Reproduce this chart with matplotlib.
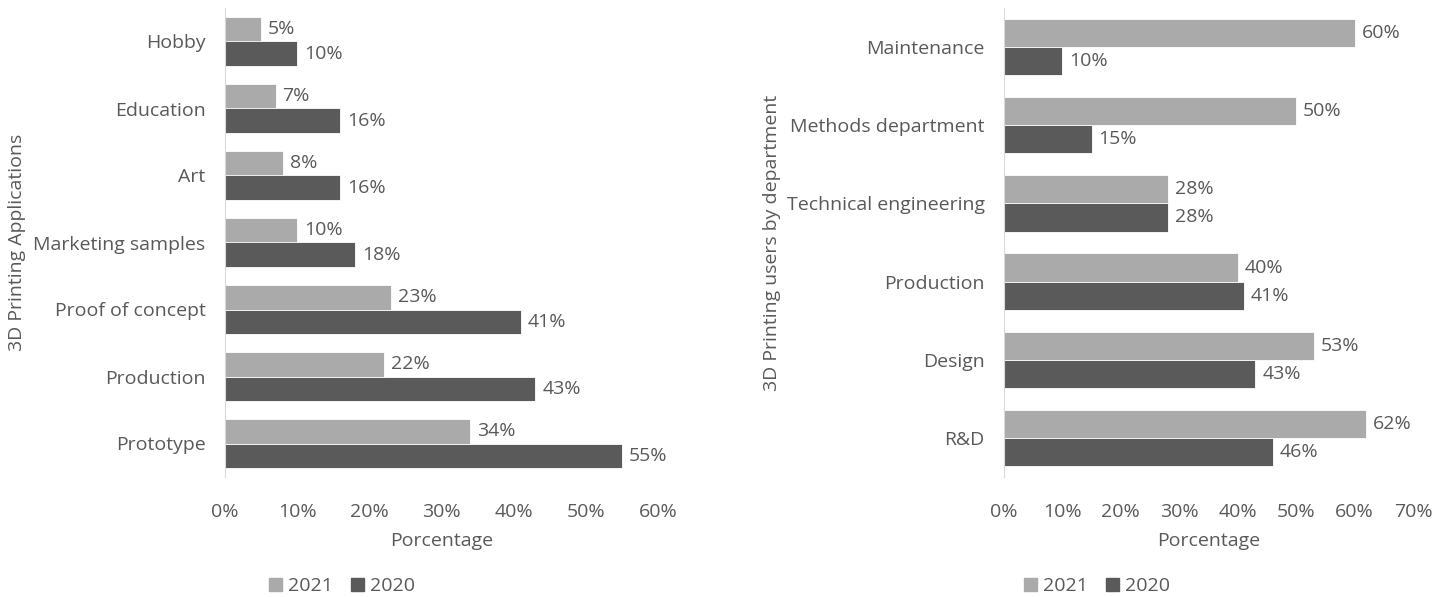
import matplotlib
matplotlib.use("Agg")
import matplotlib.pyplot as plt
import numpy as np
from matplotlib.patches import Patch

plt.rcParams['font.family'] = ['Open Sans', 'DejaVu Sans']

# Applications (top to bottom)
app_categories = ["Hobby", "Education", "Art", "Marketing samples",
                  "Proof of concept", "Production", "Prototype"]
app_2021 = [5, 7, 8, 10, 23, 22, 34]
app_2020 = [10, 16, 16, 18, 41, 43, 55]

# Departments (top to bottom)
dept_categories = ["Maintenance", "Methods department", "Technical engineering",
                   "Production", "Design", "R&D"]
dept_2021 = [60, 50, 28, 40, 53, 62]
dept_2020 = [10, 15, 28, 41, 43, 46]

years = ["2021", "2020"]
c2021 = "#AAAAAA"
c2020 = "#5A5A5A"
txt = "#595959"
fs = 14

fig = plt.figure(figsize=(14.51, 5.97), dpi=100)


def draw(ax, cats, v21, v20, xmax, ylabel):
    n = len(cats)
    y = np.arange(n)[::-1]
    h = 0.36
    ax.barh(y + h / 2, v21, height=h, color=c2021, edgecolor="white", linewidth=0.6)
    ax.barh(y - h / 2, v20, height=h, color=c2020, edgecolor="white", linewidth=0.6)
    for yy, a, b in zip(y, v21, v20):
        ax.annotate(f"{a}%", (a, yy + h / 2), xytext=(5, 0), textcoords="offset points",
                    va="center", ha="left", fontsize=fs, color=txt)
        ax.annotate(f"{b}%", (b, yy - h / 2), xytext=(5, 0), textcoords="offset points",
                    va="center", ha="left", fontsize=fs, color=txt)
    ax.set_ylim(-0.5, n - 0.5)
    ax.set_xlim(0, xmax)
    ax.set_yticks(y)
    ax.set_yticklabels(cats, fontsize=fs, color=txt)
    ticks = np.arange(0, xmax + 1, 10)
    ax.set_xticks(ticks)
    ax.set_xticklabels([f"{t}%" for t in ticks], fontsize=fs, color=txt)
    ax.tick_params(length=0, pad=14, axis="y")
    ax.tick_params(length=0, pad=19, axis="x")
    for s in ["top", "right", "bottom"]:
        ax.spines[s].set_visible(False)
    ax.spines["left"].set_color("#D9D9D9")
    ax.set_xlabel("Porcentage", fontsize=fs, color=txt, labelpad=8)
    ax.set_ylabel(ylabel, fontsize=fs, color=txt)


ax1 = fig.add_axes([225 / 1451, 1 - 477 / 597, 433 / 1451, 469 / 597])
draw(ax1, app_categories, app_2021, app_2020, 60, "3D Printing Applications")
ax1.yaxis.set_label_coords(-0.46, 0.5)

ax2 = fig.add_axes([1004 / 1451, 1 - 477 / 597, 409 / 1451, 469 / 597])
draw(ax2, dept_categories, dept_2021, dept_2020, 70, "3D Printing users by department")
ax2.yaxis.set_label_coords(-0.545, 0.5)

handles = [Patch(color=c2021, label=years[0]), Patch(color=c2020, label=years[1])]
for xc in (342 / 1451, 1097 / 1451):
    leg = fig.legend(handles=handles, loc="center", bbox_to_anchor=(xc, 0.018),
                     ncol=2, frameon=False, fontsize=fs, handlelength=0.7,
                     handleheight=0.7, handletextpad=0.3, columnspacing=0.9)
    for t in leg.get_texts():
        t.set_color(txt)

fig.savefig("out.png", dpi=100, facecolor="white")
